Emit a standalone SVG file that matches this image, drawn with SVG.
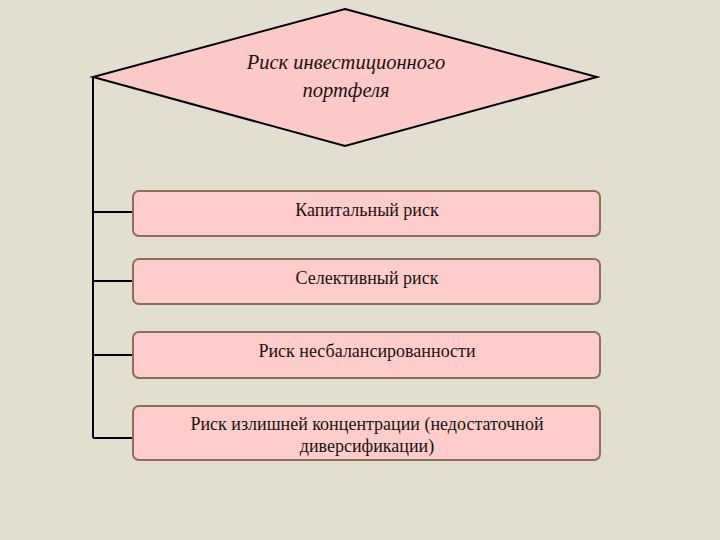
<svg xmlns="http://www.w3.org/2000/svg" width="720" height="540" viewBox="0 0 720 540">
<style>
.box{fill:#ffcccc;stroke:#8f6e55;stroke-width:2}
.conn{fill:none;stroke:#000;stroke-width:2}
.t{font-family:"Liberation Serif","Times New Roman",serif;font-size:18px;fill:#1a1410;text-anchor:middle}
.ti{font-family:"Liberation Serif","Times New Roman",serif;font-style:italic;font-size:20.5px;fill:#1a1410;text-anchor:middle}
</style>
<rect width="720" height="540" fill="#e2dfd1"/>
<g id="connectors">
<path class="conn" d="M93,77 V438"/>
<path class="conn" d="M93,212 H133 M93,281 H133 M93,355 H133 M93,438 H133"/>
</g>
<g id="root">
<polygon points="345,9 597,77 345,146 93,77" fill="#fcc9c9" stroke="#000" stroke-width="2"/>
<text class="ti" x="346" y="69">Риск инвестиционного</text>
<text class="ti" x="346" y="97">портфеля</text>
</g>
<g id="n1">
<rect class="box" x="133" y="191" width="467" height="45" rx="6"/>
<text class="t" x="367" y="216">Капитальный риск</text>
</g>
<g id="n2">
<rect class="box" x="133" y="259" width="467" height="45" rx="6"/>
<text class="t" x="367" y="284">Селективный риск</text>
</g>
<g id="n3">
<rect class="box" x="133" y="332" width="467" height="46" rx="6"/>
<text class="t" x="367" y="357">Риск несбалансированности</text>
</g>
<g id="n4">
<rect class="box" x="133" y="406" width="467" height="54" rx="6"/>
<text class="t" x="367" y="430">Риск излишней концентрации (недостаточной</text>
<text class="t" x="367" y="452">диверсификации)</text>
</g>
</svg>
